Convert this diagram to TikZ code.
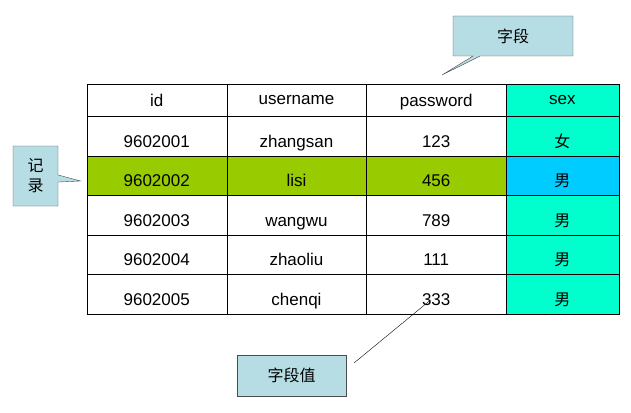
\documentclass[tikz,border=0pt]{standalone}
\usepackage{fontspec}
\setmainfont{Liberation Sans}
\newfontfamily\cjk{Noto Sans CJK SC}
\usetikzlibrary{shapes.callouts}
\definecolor{calloutfill}{RGB}{183,221,228}
\definecolor{rowgreen}{RGB}{153,204,0}
\definecolor{sexteal}{RGB}{0,255,204}
\definecolor{sexblue}{RGB}{0,204,255}
\tikzset{
  cell/.style={draw, inner sep=0pt, minimum height=39.6pt, font=\fontsize{17}{17}\selectfont, anchor=north west, text depth=0pt},
  note/.style={draw=black!70, fill=calloutfill, inner sep=0pt, font=\cjk\fontsize{16}{20}\selectfont, align=center}
}
\begin{document}
\begin{tikzpicture}[x=1pt,y=-1pt]
      \useasboundingbox (0,0) rectangle (631,412);

      % header
      \node[cell, minimum width=140pt, minimum height=32pt] (hId)    at (86.5,84)  {id};
      \node[cell, minimum width=139.5pt, minimum height=32pt] (hUser) at (226.5,84) {username};
      \node[cell, minimum width=140pt, minimum height=32pt] (hPass)  at (366,84)   {password};
      \node[cell, minimum width=112.5pt, minimum height=32pt, fill=sexteal] (hSex) at (506,84) {sex};

      % records
      \foreach \i/\uid/\uname/\pw/\sx [count=\r] in
        {1/9602001/zhangsan/123/女, 2/9602002/lisi/456/男, 3/9602003/wangwu/789/男,
         4/9602004/zhaoliu/111/男, 5/9602005/chenqi/333/男}{
        \pgfmathsetmacro\ytop{116+39.6*(\r-1)}
        \ifnum\r=2
          \def\rowfill{rowgreen}\def\sexfill{sexblue}
        \else
          \def\rowfill{white}\def\sexfill{sexteal}
        \fi
        \node[cell, minimum width=140pt, fill=\rowfill, text height=22pt] (id\r)   at (86.5,\ytop)  {\uid};
        \node[cell, minimum width=139.5pt, fill=\rowfill, text height=22pt] (user\r) at (226.5,\ytop) {\uname};
        \node[cell, minimum width=140pt, fill=\rowfill, text height=22pt] (pass\r) at (366,\ytop)   {\pw};
        \node[cell, minimum width=112.5pt, fill=\sexfill, text height=22pt, font=\cjk\fontsize{16}{16}\selectfont] (sex\r) at (506,\ytop) {\sx};
      }
      \draw[line width=1.2pt] (id5.south west) -- (sex5.south east);

      % callouts
      \coordinate (fieldTip)  at (442,75);
      \coordinate (recordTip) at (80.5,181);
      \coordinate (valueEnd)  at (430.5,300);

      \node[note, rectangle callout, minimum width=120pt, minimum height=40pt,
            callout absolute pointer={(fieldTip)}] (fieldN) at (513,36) {字段};
      \node[note, rectangle callout, minimum width=45pt, minimum height=60pt,
            callout absolute pointer={(recordTip)}] (recordN) at (35.5,176) {记\\录};
      \node[note, minimum width=109pt, minimum height=41pt] (valueN) at (291.5,375.5) {字段值};

      \draw (354,363) -- (valueEnd);
    \end{tikzpicture}
\end{document}
